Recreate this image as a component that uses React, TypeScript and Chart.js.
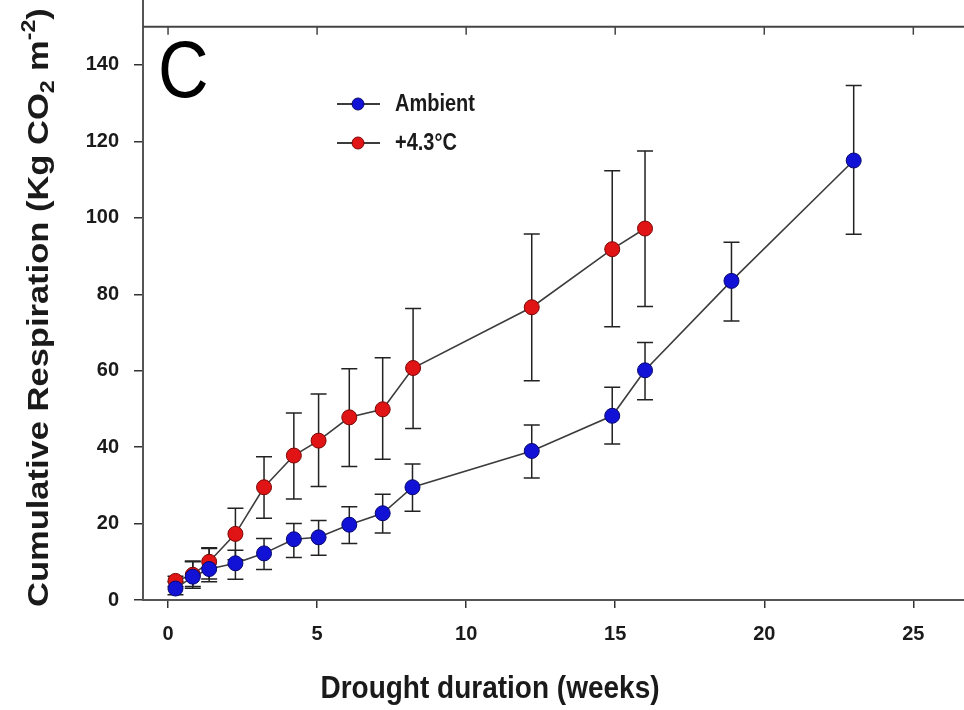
import React, { useEffect, useRef } from "react";
import { Chart, registerables } from "chart.js";

Chart.register(...registerables);

// ---- data ----
const seriesLabels = ["Ambient", "+4.3°C"];

const ambientWeeks = [0.25, 0.83, 1.38, 2.26, 3.22, 4.22, 5.05, 6.08, 7.2, 8.2, 12.2, 14.9, 16.0, 18.9, 23.0];
const ambientMean = [3.0, 6.1, 8.1, 9.6, 12.2, 15.9, 16.4, 19.7, 22.7, 29.5, 39.0, 48.2, 60.1, 83.5, 115.0];
const ambientHi = [4.8, 10.2, 13.7, 13.0, 16.1, 20.0, 20.8, 24.4, 27.7, 35.6, 45.8, 55.7, 67.4, 93.6, 134.6];
const ambientLo = [1.4, 3.1, 4.8, 5.4, 8.0, 11.1, 11.7, 14.8, 17.5, 23.2, 31.9, 40.8, 52.4, 73.0, 95.7];

const warmWeeks = [0.25, 0.83, 1.38, 2.26, 3.22, 4.22, 5.05, 6.08, 7.2, 8.22, 12.2, 14.9, 16.0];
const warmMean = [5.0, 6.6, 10.0, 17.3, 29.5, 37.8, 41.7, 47.8, 49.9, 60.7, 76.6, 91.8, 97.2];
const warmHi = [6.2, 10.0, 13.5, 24.0, 37.5, 48.9, 53.9, 60.5, 63.4, 76.3, 95.8, 112.3, 117.5];
const warmLo = [3.5, 3.5, 5.5, 10.5, 21.4, 26.4, 29.7, 34.9, 36.8, 44.9, 57.4, 71.5, 76.8];

const xTicks = [0, 5, 10, 15, 20, 25];
const yTicks = [0, 20, 40, 60, 80, 100, 120, 140];
const xRange = [-0.84, 26.7];
const yRange = [0, 157];
const topFrameValue = 150;

const panelLetter = "C";
const xTitle = "Drought duration (weeks)";
const yTitleParts = [
  { t: "Cumulative Respiration (Kg CO", k: "n" },
  { t: "2", k: "sub" },
  { t: " m", k: "n" },
  { t: "-2", k: "sup" },
  { t: ")", k: "n" },
];

const errorHi = [ambientHi, warmHi];
const errorLo = [ambientLo, warmLo];

const FONT = "'Liberation Sans', Arial, Helvetica, sans-serif";
const INK = "#1a1a1a";
const LINE = "#3c3c3c";
const markerFill = ["#1212d6", "#e01414"];
const markerEdge = ["#06066e", "#7a0606"];

const decorPlugin = {
  id: "decor",
  beforeDatasetsDraw(chart: any) {
    const ctx = chart.ctx;
    const xs = chart.scales.x;
    const ys = chart.scales.y;
    ctx.save();
    ctx.strokeStyle = "#222";
    ctx.lineWidth = 1.5;
    chart.data.datasets.forEach((ds: any, di: number) => {
      ds.data.forEach((p: any, i: number) => {
        const px = xs.getPixelForValue(p.x);
        const top = ys.getPixelForValue(errorHi[di][i]);
        const bot = ys.getPixelForValue(errorLo[di][i]);
        ctx.beginPath();
        ctx.moveTo(px, top);
        ctx.lineTo(px, bot);
        ctx.moveTo(px - 8, top);
        ctx.lineTo(px + 8, top);
        ctx.moveTo(px - 8, bot);
        ctx.lineTo(px + 8, bot);
        ctx.stroke();
      });
    });
    ctx.restore();
  },
  afterDraw(chart: any) {
    const ctx = chart.ctx;
    const xs = chart.scales.x;
    const ys = chart.scales.y;
    const area = chart.chartArea;
    ctx.save();

    // top frame line at 150 with inward ticks
    const ty = ys.getPixelForValue(topFrameValue);
    ctx.strokeStyle = "#444";
    ctx.lineWidth = 2;
    ctx.beginPath();
    ctx.moveTo(area.left, ty);
    ctx.lineTo(area.right, ty);
    ctx.stroke();
    ctx.lineWidth = 1.5;
    xTicks.forEach((v) => {
      const px = xs.getPixelForValue(v);
      ctx.beginPath();
      ctx.moveTo(px, ty);
      ctx.lineTo(px, ty + 8);
      ctx.stroke();
    });

    // panel letter
    ctx.fillStyle = "#000";
    ctx.save();
    ctx.translate(158, 97);
    ctx.scale(1, 1.15);
    ctx.font = `70px ${FONT}`;
    ctx.textAlign = "left";
    ctx.textBaseline = "alphabetic";
    ctx.fillText(panelLetter, 0, 0);
    ctx.restore();

    // legend
    const legendY = [104, 143];
    chart.data.datasets.forEach((ds: any, i: number) => {
      const y = legendY[i];
      ctx.strokeStyle = LINE;
      ctx.lineWidth = 2;
      ctx.beginPath();
      ctx.moveTo(337, y);
      ctx.lineTo(380, y);
      ctx.stroke();
      ctx.beginPath();
      ctx.arc(358, y, 6, 0, Math.PI * 2);
      ctx.fillStyle = markerFill[i];
      ctx.fill();
      ctx.lineWidth = 1;
      ctx.strokeStyle = markerEdge[i];
      ctx.stroke();
      ctx.save();
      ctx.translate(395, y);
      ctx.scale(1, 1.15);
      ctx.fillStyle = INK;
      ctx.font = `bold 20px ${FONT}`;
      ctx.textAlign = "left";
      ctx.textBaseline = "middle";
      ctx.fillText(ds.label, 0, 1);
      ctx.restore();
    });

    // x title
    ctx.save();
    ctx.translate(490, 698);
    ctx.scale(1, 1.15);
    ctx.fillStyle = INK;
    ctx.font = `bold 28px ${FONT}`;
    ctx.textAlign = "center";
    ctx.textBaseline = "alphabetic";
    ctx.fillText(xTitle, 0, 0);
    ctx.restore();

    // y title (rich text, rotated)
    ctx.save();
    ctx.translate(40, 607);
    ctx.rotate(-Math.PI / 2);
    ctx.scale(1.15, 1);
    ctx.fillStyle = INK;
    ctx.textAlign = "left";
    ctx.textBaseline = "middle";
    let cx = 0;
    yTitleParts.forEach((part) => {
      const size = part.k === "n" ? 30 : 20;
      const dy = part.k === "sub" ? 8 : part.k === "sup" ? -11 : 0;
      ctx.font = `bold ${size}px ${FONT}`;
      ctx.fillText(part.t, cx, dy);
      cx += ctx.measureText(part.t).width;
    });
    ctx.restore();

    ctx.restore();
  },
};

const zeroPad = (s: any) => {
  s.paddingTop = 0;
  s.paddingBottom = 0;
  s.paddingLeft = 0;
  s.paddingRight = 0;
};

export default function App() {
  const ref = useRef<HTMLCanvasElement | null>(null);

  useEffect(() => {
    if (!ref.current) return;
    const mk = (i: number, xs: number[], ys: number[]) => ({
      label: seriesLabels[i],
      data: xs.map((x, k) => ({ x, y: ys[k] })),
      borderColor: LINE,
      borderWidth: 1.6,
      pointRadius: 7.5,
      pointHoverRadius: 7.5,
      pointBackgroundColor: markerFill[i],
      pointBorderColor: markerEdge[i],
      pointBorderWidth: 1,
      tension: 0,
      fill: false,
      clip: false as any,
    });
    const tickFont = { family: FONT, size: 20, weight: "bold" as any };
    const chart = new Chart(ref.current, {
      type: "line",
      data: {
        datasets: [mk(0, ambientWeeks, ambientMean), mk(1, warmWeeks, warmMean)],
      },
      options: {
        animation: false,
        responsive: false,
        maintainAspectRatio: false,
        layout: { padding: 0, autoPadding: false } as any,
        plugins: { legend: { display: false }, tooltip: { enabled: false } },
        scales: {
          x: {
            type: "linear",
            min: xRange[0],
            max: xRange[1],
            afterBuildTicks: (s: any) => {
              s.ticks = xTicks.map((v) => ({ value: v }));
            },
            afterFit: (s: any) => {
              s.height = 110;
              zeroPad(s);
            },
            grid: { drawOnChartArea: false, drawTicks: true, tickLength: 8, color: "#333", lineWidth: 1.5 },
            border: { display: true, color: "#555", width: 2 },
            ticks: { font: tickFont, color: INK, padding: 14, maxRotation: 0, autoSkip: false },
          },
          y: {
            type: "linear",
            min: yRange[0],
            max: yRange[1],
            afterBuildTicks: (s: any) => {
              s.ticks = yTicks.map((v) => ({ value: v }));
            },
            afterFit: (s: any) => {
              s.width = 143;
              zeroPad(s);
            },
            grid: { drawOnChartArea: false, drawTicks: true, tickLength: 9, color: "#333", lineWidth: 1.5 },
            border: { display: true, color: "#555", width: 2 },
            ticks: { font: tickFont, color: INK, padding: 15, autoSkip: false },
          },
        },
      },
      plugins: [decorPlugin],
    });
    return () => chart.destroy();
  }, []);

  return (
    <div style={{ position: "fixed", left: 0, top: 0, width: 964, height: 710, background: "#fff" }}>
      <canvas ref={ref} width={964} height={710} style={{ display: "block", width: 964, height: 710 }} />
    </div>
  );
}
